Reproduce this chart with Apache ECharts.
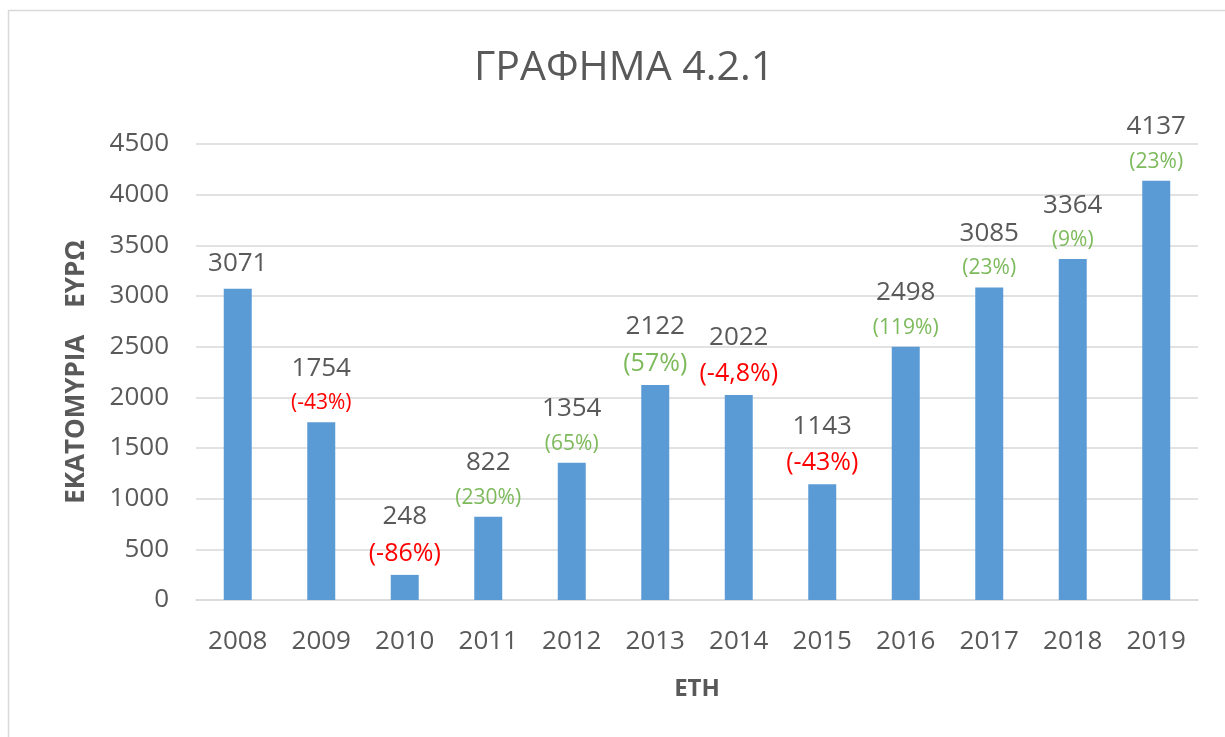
<!DOCTYPE html>
<html>
<head>
<meta charset="utf-8">
<script src="https://cdn.jsdelivr.net/npm/echarts@6/dist/echarts.min.js"></script>
<style>
html,body{margin:0;padding:0;background:#fff;}
#chart{width:1225px;height:737px;}
</style>
</head>
<body>
<div id="chart"></div>
<script>
const categories = ['2008','2009','2010','2011','2012','2013','2014','2015','2016','2017','2018','2019'];
const values = [3071, 1754, 248, 822, 1354, 2122, 2022, 1143, 2498, 3085, 3364, 4137];
const changes = ['', '(-43%)', '(-86%)', '(230%)', '(65%)', '(57%)', '(-4,8%)', '(-43%)', '(119%)', '(23%)', '(9%)', '(23%)'];
const bigChangeYears = ['2010', '2013', '2014', '2015'];
const yMin = 0, yMax = 4500, yStep = 500;

const FONT = '"Open Sans", "Noto Sans", sans-serif';
const GREY = '#595959';

const chart = echarts.init(document.getElementById('chart'));

const seriesData = values.map((v, i) => {
  const item = { value: v };
  if (!changes[i]) item.label = { distance: 7 };
  return item;
});

chart.setOption({
  backgroundColor: '#ffffff',
  animation: false,
  graphic: [{
    type: 'rect',
    shape: { x: 8.5, y: 10.5, width: 1240, height: 760 },
    style: { fill: 'none', stroke: '#D9D9D9', lineWidth: 1.5 },
    silent: true
  }],
  title: {
    text: 'ΓΡΑΦΗΜΑ 4.2.1',
    left: 469,
    top: 43,
    textStyle: { fontFamily: FONT, fontSize: 41, fontWeight: 'normal', color: GREY }
  },
  grid: { left: 196, right: 27, top: 144, bottom: 137, containLabel: false },
  xAxis: {
    type: 'category',
    data: categories,
    name: 'ΕΤΗ',
    nameLocation: 'middle',
    nameGap: 77,
    nameTextStyle: { fontFamily: FONT, fontSize: 24, fontWeight: 'bold', color: GREY },
    axisLine: { lineStyle: { color: '#D9D9D9', width: 1.5 } },
    axisTick: { show: false },
    axisLabel: { fontFamily: FONT, fontSize: 26, color: GREY, margin: 29 }
  },
  yAxis: {
    type: 'value',
    min: yMin, max: yMax, interval: yStep,
    name: 'ΕΚΑΤΟΜΥΡΙΑ    ΕΥΡΩ',
    nameLocation: 'middle',
    nameGap: 106,
    nameTextStyle: { fontFamily: FONT, fontSize: 26, fontWeight: 'bold', color: GREY },
    axisLine: { show: false },
    axisTick: { show: false },
    splitLine: { lineStyle: { color: '#D9D9D9', width: 1.5 } },
    axisLabel: { fontFamily: FONT, fontSize: 26, color: GREY, margin: 27, formatter: v => String(v) }
  },
  series: [{
    type: 'bar',
    data: seriesData,
    barWidth: 28,
    itemStyle: { color: '#5B9BD5' },
    label: {
      show: true,
      position: 'top',
      distance: 2,
      formatter: function (p) {
        const c = changes[p.dataIndex];
        if (!c) return '{v|' + p.value + '}';
        const neg = c.indexOf('-') >= 0;
        const big = bigChangeYears.indexOf(p.name) >= 0;
        const key = (neg ? 'r' : 'g') + (big ? 'L' : 'S');
        return '{v|' + p.value + '}\n{' + key + '|' + c + '}';
      },
      rich: {
        v:  { fontFamily: FONT, fontSize: 26, color: GREY, lineHeight: 36 },
        rS: { fontFamily: FONT, fontSize: 21, color: '#FF0000', lineHeight: 34 },
        rL: { fontFamily: FONT, fontSize: 25, color: '#FF0000', lineHeight: 38 },
        gS: { fontFamily: FONT, fontSize: 21, color: '#7DBA5C', lineHeight: 34 },
        gL: { fontFamily: FONT, fontSize: 25, color: '#7DBA5C', lineHeight: 38 }
      }
    }
  }]
});
</script>
</body>
</html>
